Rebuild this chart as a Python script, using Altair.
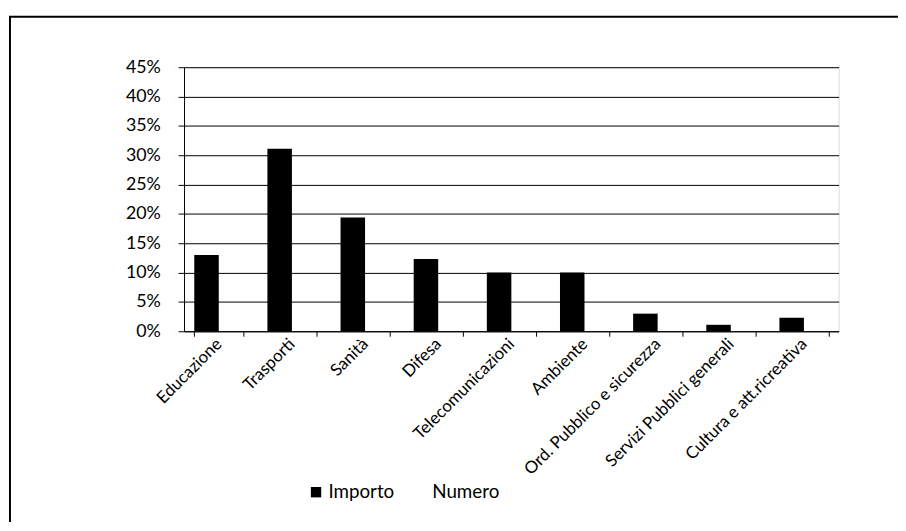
import altair as alt
import pandas as pd

categories = ["Educazione", "Trasporti", "Sanità", "Difesa", "Telecomunicazioni",
              "Ambiente", "Ord. Pubblico e sicurezza", "Servizi Pubblici generali",
              "Cultura e att.ricreativa"]
importo = [0.130, 0.311, 0.194, 0.123, 0.100, 0.100, 0.030, 0.011, 0.023]
numero = [None] * 9  # not visible in the picture
series = ["Importo", "Numero"]

rows = []
for c, a, b in zip(categories, importo, numero):
    rows.append({"cat": c, "serie": "Importo", "val": a})
    rows.append({"cat": c, "serie": "Numero", "val": b})
df = pd.DataFrame(rows)

FONT = "Lato"

bars = alt.Chart(df).mark_bar(color="black").encode(
    x=alt.X("cat:N", sort=categories, title=None,
            scale=alt.Scale(paddingInner=0.33, paddingOuter=0.14),
            axis=alt.Axis(labelAngle=-45, labelAlign="right", labelBaseline="middle",
                          labelFontSize=17, labelFont=FONT, labelColor="black",
                          labelLimit=400,
                          tickBand="extent", tickSize=5, tickColor="black",
                          domainColor="black", labelPadding=5)),
    xOffset=alt.XOffset("serie:N", scale=alt.Scale(domain=series)),
    y=alt.Y("val:Q", title=None,
            scale=alt.Scale(domain=[0, 0.45]),
            axis=alt.Axis(format="0%", values=[i * 0.05 for i in range(10)],
                          labelFontSize=18, labelFont=FONT, labelColor="black",
                          gridColor="black", gridWidth=1, gridOpacity=1,
                          tickSize=6, tickColor="black", domainColor="black",
                          labelPadding=18)),
    color=alt.Color("serie:N", scale=alt.Scale(domain=series, range=["black", "white"]),
                    legend=alt.Legend(title=None, orient="none", direction="horizontal",
                                      legendX=124, legendY=420, symbolType="square",
                                      symbolSize=110, symbolStrokeWidth=0,
                                      labelFontSize=19, labelFont=FONT, labelColor="black",
                                      columnPadding=16, labelOffset=3)),
)

frame_df = pd.DataFrame({"k": [0]})
top_line = alt.Chart(frame_df).mark_rule(color="black", strokeWidth=2).encode(
    x=alt.value(-177), x2=alt.value(740), y=alt.value(-51))
left_line = alt.Chart(frame_df).mark_rule(color="black", strokeWidth=2).encode(
    x=alt.value(-176), y=alt.value(-51), y2=alt.value(480))

chart = alt.layer(bars, top_line, left_line).properties(
    width=662, height=267,
    autosize=alt.AutoSizeParams(type="none"),
    padding={"left": 178, "top": 57, "right": 60, "bottom": 190},
).configure_view(stroke=None).configure(background="white")

chart.save("out.html", embed_options={"renderer": "svg", "actions": False})
